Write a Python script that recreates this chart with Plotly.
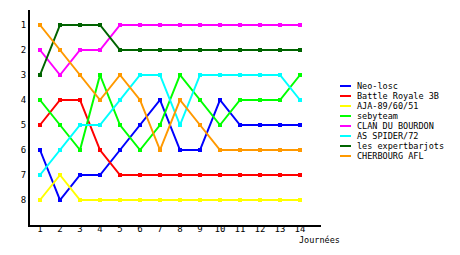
import plotly.graph_objects as go

journees = list(range(1, 15))
teams = ["Neo-losc", "Battle Royale 3B", "AJA-89/60/51", "sebyteam",
         "CLAN DU BOURDON", "AS SPIDER/72", "les expertbarjots", "CHERBOURG AFL"]
colors = ["#0000FF", "#FF0000", "#FFFF00", "#00FF00",
          "#FF00FF", "#00FFFF", "#006400", "#FF9900"]

neo_losc = [6, 8, 7, 7, 6, 5, 4, 6, 6, 4, 5, 5, 5, 5]
battle_royale = [5, 4, 4, 6, 7, 7, 7, 7, 7, 7, 7, 7, 7, 7]
aja = [8, 7, 8, 8, 8, 8, 8, 8, 8, 8, 8, 8, 8, 8]
sebyteam = [4, 5, 6, 3, 5, 6, 5, 3, 4, 5, 4, 4, 4, 3]
clan_bourdon = [2, 3, 2, 2, 1, 1, 1, 1, 1, 1, 1, 1, 1, 1]
as_spider = [7, 6, 5, 5, 4, 3, 3, 5, 3, 3, 3, 3, 3, 4]
expertbarjots = [3, 1, 1, 1, 2, 2, 2, 2, 2, 2, 2, 2, 2, 2]
cherbourg = [1, 2, 3, 4, 3, 4, 6, 4, 5, 6, 6, 6, 6, 6]

series = [neo_losc, battle_royale, aja, sebyteam,
          clan_bourdon, as_spider, expertbarjots, cherbourg]

FONT = "DejaVu Sans Mono"

fig = go.Figure()
for name, vals, col in zip(teams, series, colors):
    fig.add_trace(go.Scatter(
        x=journees, y=vals, mode="lines+markers", name=name,
        line=dict(color=col, width=2),
        marker=dict(color=col, size=4, symbol="square", line=dict(width=0)),
        showlegend=False,
    ))

# plot area: 30..321 px horizontally, 10..225 px vertically
W, H = 460, 255
ml, mr, mt, mb = 30, 139, 10, 30
pw = W - ml - mr
ph = H - mt - mb

# compact legend
for i, (name, col) in enumerate(zip(teams, colors)):
    ypx = 86 + 10 * i
    yp = (H - mb - ypx) / ph
    fig.add_shape(type="line", xref="paper", yref="paper",
                  x0=(340 - ml) / pw, x1=(351 - ml) / pw, y0=yp, y1=yp,
                  line=dict(color=col, width=2))
    fig.add_annotation(xref="paper", yref="paper", x=(355 - ml) / pw, y=yp,
                       text=name, showarrow=False, xanchor="left", yanchor="middle",
                       font=dict(family=FONT, size=8.5, color="black"))

fig.add_annotation(xref="x", yref="paper", x=14, y=0, xanchor="left", yanchor="middle",
                   xshift=-3, yshift=-15, text="Journées", showarrow=False,
                   font=dict(family=FONT, size=8.5, color="black"))

fig.update_layout(
    width=W, height=H,
    margin=dict(l=ml, r=mr, t=mt, b=mb, pad=0),
    paper_bgcolor="white", plot_bgcolor="white",
    showlegend=False,
    xaxis=dict(range=[0.5, 15.05], tickmode="array", tickvals=journees,
               ticktext=[str(j) for j in journees], showgrid=False, zeroline=False,
               showline=True, linecolor="black", linewidth=2, ticks="",
               ticklabelstandoff=-6,
               tickfont=dict(family=FONT, size=9, color="black")),
    yaxis=dict(range=[9, 0.4], tickmode="array", tickvals=list(range(1, 9)),
               showgrid=False, zeroline=False, showline=True, linecolor="black",
               linewidth=2, ticks="", tickfont=dict(family=FONT, size=9, color="black")),
)

fig.write_html("out.html")
